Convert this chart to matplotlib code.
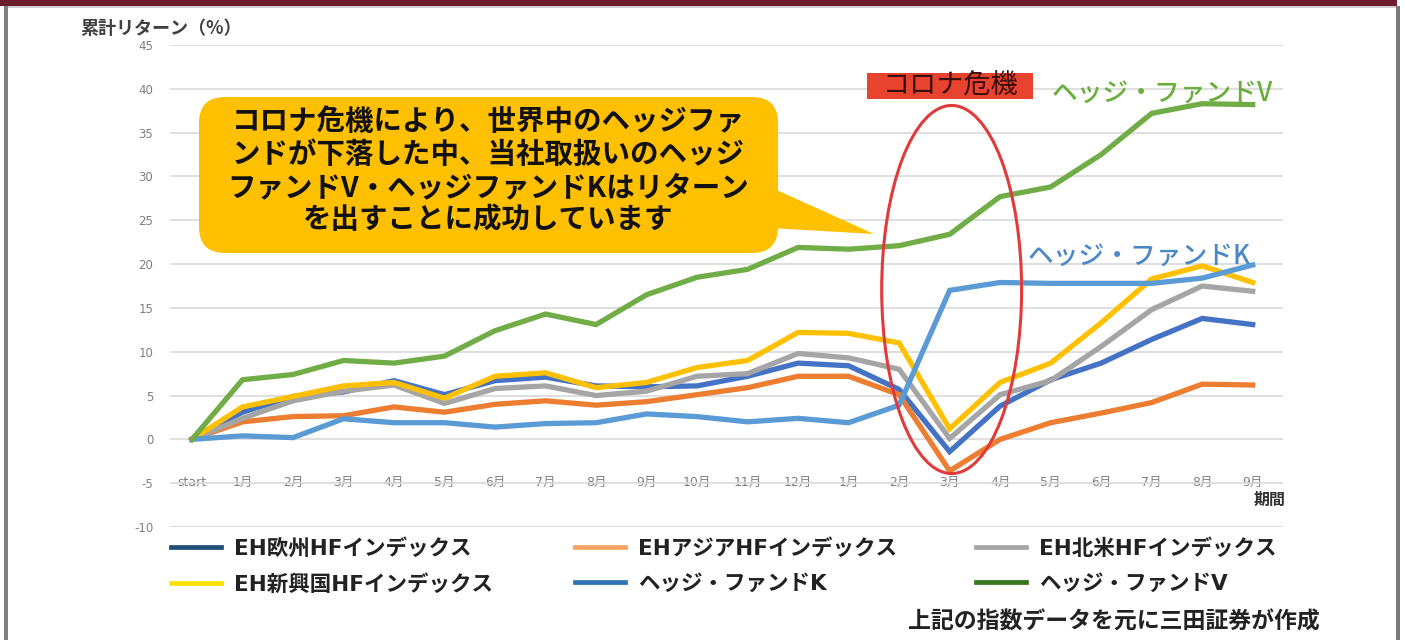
import matplotlib
matplotlib.use('Agg')
import matplotlib.pyplot as plt
from matplotlib.patches import FancyBboxPatch, Polygon, Rectangle, Ellipse
from matplotlib.lines import Line2D
from matplotlib.transforms import Affine2D

plt.rcParams['font.family'] = ['Noto Sans CJK JP', 'DejaVu Sans']

# ---------------- data ----------------
categories = ['start', '1月', '2月', '3月', '4月', '5月', '6月', '7月', '8月', '9月',
              '10月', '11月', '12月', '1月', '2月', '3月', '4月', '5月', '6月', '7月', '8月', '9月']
y_ticks = list(range(-10, 50, 5))

series_names = ['EH欧州HFインデックス', 'EHアジアHFインデックス', 'EH北米HFインデックス',
                'EH新興国HFインデックス', 'ヘッジ・ファンドK', 'ヘッジ・ファンドV']
eh_europe = [0, 3.1, 4.9, 5.4, 6.7, 5.1, 6.7, 7.1, 6.1, 6.0, 6.1, 7.2, 8.7, 8.4, 5.7, -1.4, 3.8, 6.8, 8.7, 11.4, 13.8, 13.1]
eh_asia = [0, 2.0, 2.6, 2.7, 3.7, 3.1, 4.0, 4.4, 3.9, 4.3, 5.1, 5.9, 7.2, 7.2, 5.1, -3.6, 0.0, 1.9, 3.0, 4.2, 6.3, 6.2]
eh_namerica = [0, 2.4, 4.4, 5.5, 6.2, 4.1, 5.8, 6.1, 5.0, 5.5, 7.2, 7.5, 9.8, 9.3, 8.0, 0.1, 5.1, 6.7, 10.6, 14.8, 17.5, 16.9]
eh_emerging = [0, 3.7, 4.9, 6.1, 6.5, 4.7, 7.2, 7.6, 5.9, 6.5, 8.2, 9.0, 12.2, 12.1, 11.0, 1.2, 6.5, 8.7, 13.3, 18.3, 19.8, 17.9]
fund_k = [0, 0.4, 0.2, 2.35, 1.9, 1.9, 1.4, 1.8, 1.9, 2.9, 2.6, 2.0, 2.4, 1.9, 3.9, 17.0, 17.9, 17.8, 17.8, 17.8, 18.4, 19.9]
fund_v = [0, 6.8, 7.4, 9.0, 8.7, 9.5, 12.4, 14.3, 13.1, 16.5, 18.5, 19.4, 21.9, 21.7, 22.1, 23.4, 27.7, 28.8, 32.5, 37.2, 38.3, 38.2]

line_colors = ['#4472C4', '#ED7D31', '#A5A5A5', '#FFC000', '#5B9BD5', '#70AD47']
legend_colors = ['#1F4E79', '#F4A460', '#A6A6A6', '#FFE000', '#2E75B6', '#38761D']

y_label = '累計リターン（%）'
x_label = '期間'
callout_lines = ['コロナ危機により、世界中のヘッジファ',
                 'ンドが下落した中、当社取扱いのヘッジ',
                 'ファンドV・ヘッジファンドKはリターン',
                 'を出すことに成功しています']
crisis_label = 'コロナ危機'
footer = '上記の指数データを元に三田証券が作成'

# ---------------- figure ----------------
W, H = 1405, 640
fig = plt.figure(figsize=(W / 100, H / 100), dpi=100)
fig.patch.set_facecolor('white')
px = Affine2D().scale(1 / 100, -1 / 100).translate(0, H / 100) + fig.dpi_scale_trans

ax = fig.add_axes([170 / W, 1 - 527 / H, (1283 - 170) / W, (527 - 45) / H])
ax.set_xlim(-0.435, 21.6)
ax.set_ylim(-10, 45)
ax.set_yticks(y_ticks)
ax.set_yticklabels([str(v) for v in y_ticks])
ax.set_xticks(range(len(categories)))
ax.set_xticklabels(categories)
for s in ax.spines.values():
    s.set_visible(False)
ax.grid(axis='y', color='#d9d9d9', lw=1.2)
ax.set_axisbelow(True)
ax.tick_params(axis='y', length=0, pad=12, labelsize=8.5, labelcolor='#7f7f7f')
ax.tick_params(axis='x', length=0, pad=-37, labelsize=9, labelcolor='#7f7f7f')
for lab in ax.get_yticklabels():
    lab.set_family(['DejaVu Sans'])
for lab in ax.get_xticklabels():
    lab.set_family(['DejaVu Sans', 'Noto Sans CJK JP'])

all_series = [eh_europe, eh_asia, eh_namerica, eh_emerging, fund_k, fund_v]
xs = list(range(len(categories)))
lines = []
for vals, col, name in zip(all_series, line_colors, series_names):
    ln, = ax.plot(xs, vals, color=col, lw=3.8, label=name, solid_joinstyle='miter', zorder=3)
    lines.append(ln)

# crisis ellipse
ax.add_patch(Ellipse((15.04, 17.1), width=2.77, height=42, fill=False,
                     edgecolor='#E03A3A', lw=2.2, zorder=6))

# ---------------- frame ----------------
fig.add_artist(Rectangle((0, 0), 1397, 6, transform=px, color='#6B1D2F', lw=0))
fig.add_artist(Rectangle((4, 6), 1393, 2, transform=px, color='#d0d0d0', lw=0))
fig.add_artist(Rectangle((4, 6), 3.5, 640, transform=px, color='#808080', lw=0))
fig.add_artist(Rectangle((1395.5, 6), 4, 640, transform=px, color='#7a7a7a', lw=0))

# ---------------- texts ----------------
fig.text(80, 28, y_label, transform=px, ha='left', va='center', fontsize=13,
         fontweight='bold', color='#404040')
fig.text(1286, 500, x_label, transform=px, ha='right', va='center', fontsize=11.5,
         fontweight='bold', color='#333333')

fig.text(1052, 93, series_names[5], transform=px, ha='left', va='center', fontsize=18.5,
         fontweight='medium', color='#6AAE3E')
fig.text(1028, 256, series_names[4], transform=px, ha='left', va='center', fontsize=18.5,
         fontweight='medium', color='#4A88C8')

# crisis label
fig.add_artist(Rectangle((867, 73), 166, 26, transform=px, color='#E8432E', lw=0))
fig.text(950, 86.5, crisis_label, transform=px, ha='center', va='center', fontsize=19.5,
         color='#3a0d0d')

# callout
fig.add_artist(Polygon([(770, 187), (874, 234), (770, 228)], closed=True, transform=px,
                       color='#FFC000', lw=0))
fig.add_artist(FancyBboxPatch((199, 97), 579, 156, boxstyle='round,pad=0,rounding_size=26',
                              transform=px, facecolor='#FFC000', edgecolor='none'))
for i, t in enumerate(callout_lines):
    fig.text(488, [122, 155, 188, 220][i], t, transform=px, ha='center', va='center',
             fontsize=20.5, fontweight='bold', color='#111111')

# footer
fig.text(1320, 622, footer, transform=px, ha='right', va='center', fontsize=16.5,
         fontweight='bold', color='#222222')

# ---------------- legend (three columns) ----------------
col_x = [171, 575, 976]
col_members = [(0, 3), (1, 4), (2, 5)]
for cx, (a, b) in zip(col_x, col_members):
    handles = [Line2D([], [], color=legend_colors[a], lw=3.4),
               Line2D([], [], color=legend_colors[b], lw=3.4)]
    leg = fig.legend(handles, [series_names[a], series_names[b]],
                     loc='center left', bbox_to_anchor=(cx, 566), bbox_transform=px,
                     frameon=False, borderpad=0, borderaxespad=0,
                     handlelength=2.3, handletextpad=0.62, labelspacing=0.7,
                     prop={'family': ['DejaVu Sans', 'Noto Sans CJK JP'], 'size': 15.5,
                           'weight': 'bold'})
    for txt in leg.get_texts():
        txt.set_color('#222222')

fig.savefig('out.png', dpi=100, facecolor='white')
